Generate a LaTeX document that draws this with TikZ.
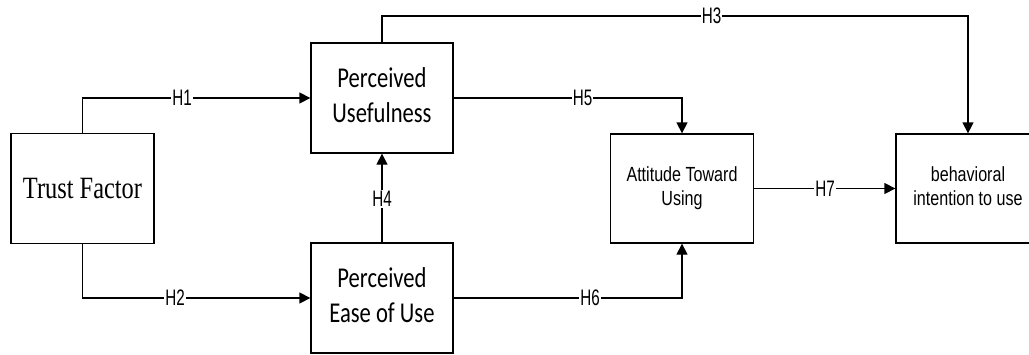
\documentclass[tikz,border=0pt]{standalone}
\usepackage{fontspec}
\setmainfont{Liberation Serif}
\newfontfamily\calfont{Carlito}
\newfontfamily\arfont{Liberation Sans}
\usetikzlibrary{arrows.meta}
\newcommand{\vst}[1]{\scalebox{1}[1.27]{#1}}
\newcommand{\lst}[1]{\scalebox{0.95}[1.4]{\arfont\fontsize{16}{16}\selectfont #1}}
\newcommand{\twolines}[4]{\vst{\fontsize{#1}{#2}\selectfont\setlength{\tabcolsep}{0pt}\begin{tabular}{c}#3\\#4\end{tabular}}}
\tikzset{
  box/.style={draw, line width=1.3pt, inner sep=0pt, minimum width=143pt, minimum height=110pt},
  conn/.style={line width=1.3pt, -{Triangle[length=11pt,width=11pt]}},
  hlab/.style={fill=white, inner sep=0.8pt}
}
\begin{document}
\begin{tikzpicture}[x=1pt,y=-1pt]
\useasboundingbox (0,0) rectangle (1029,354);
\clip (0,0) rectangle (1029,354);
\fill[white] (0,0) rectangle (1029,354);
% boxes
\node[box] (trust) at (82.5,188.5) {\vst{\fontsize{24.4}{28}\selectfont Trust Factor}};
\node[box, minimum width=142pt] (pu) at (382,98) {\twolines{22.6}{28}{\calfont Perceived}{\calfont Usefulness}};
\node[box, minimum width=142pt] (peou) at (382,298) {\twolines{22.6}{28}{\calfont Perceived}{\calfont Ease of Use}};
\node[box, minimum height=109pt] (att) at (682,188.5) {\twolines{16.1}{19}{\arfont Attitude Toward}{\arfont Using}};
\node[box, minimum width=144pt, minimum height=109pt] (bi) at (968,188.5) {\twolines{16.1}{19}{\arfont behavioral}{\arfont intention to use}};
% connectors
\draw[conn] (trust.north) |- (pu.west);
\node[hlab] (h1) at (182,98) {\lst{H1}};
\draw[conn] (trust.south) |- (peou.west);
\node[hlab] (h2) at (175,298) {\lst{H2}};
\draw[conn] (peou.north) -- (pu.south);
\node[hlab] (h4) at (382,199) {\lst{H4}};
\draw[conn] (pu.east) -| (att.north);
\node[hlab] (h5) at (582.7,98) {\lst{H5}};
\draw[conn] (peou.east) -| (att.south);
\node[hlab] (h6) at (590,298) {\lst{H6}};
\draw[conn] (att.east) -- (bi.west);
\node[hlab] (h7) at (825,189) {\lst{H7}};
\coordinate (c3a) at (382,16);
\coordinate (c3b) at (968,16);
\draw[conn] (pu.north) -- (c3a) -- (c3b) -- (bi.north);
\node[hlab] (h3) at (711.7,16) {\lst{H3}};
\end{tikzpicture}
\end{document}
